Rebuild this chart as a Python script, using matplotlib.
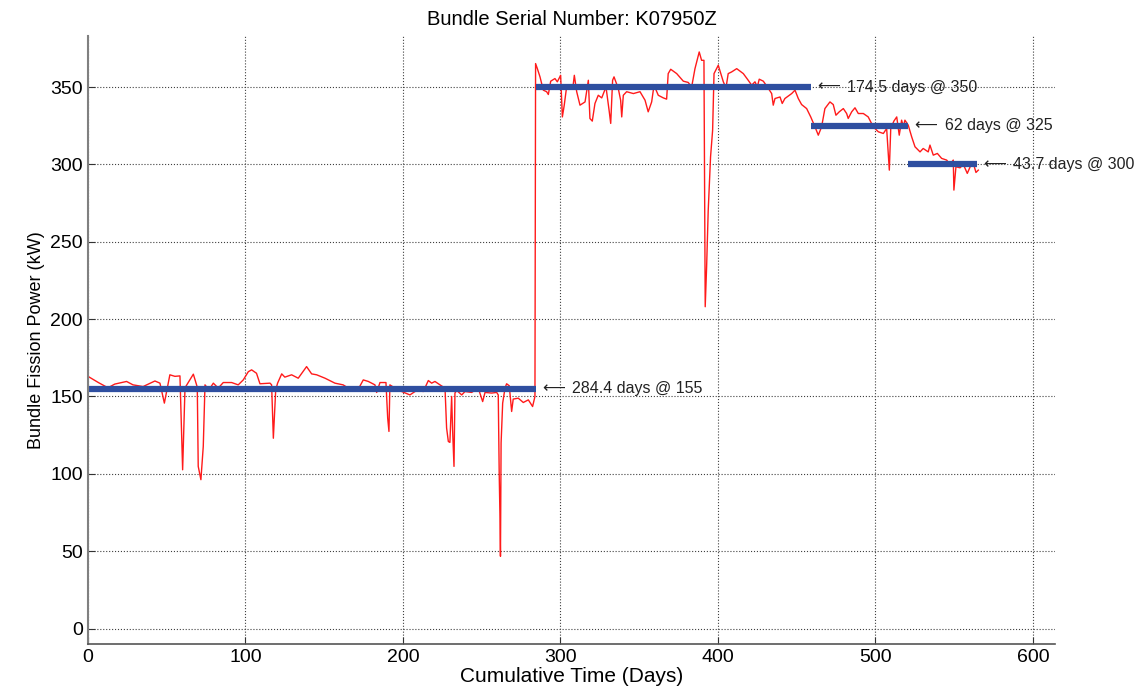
import matplotlib
matplotlib.use("Agg")
import matplotlib.pyplot as plt
import numpy as np

# cumulative time (days) and bundle fission power (kW)
days = [
    0, 6.6, 12.7, 17, 24.5, 28.6, 35, 42.5, 45.7, 48.5, 52, 55.2, 58.4, 60.1,
    61.6, 66.9, 69.4, 70, 71.7, 73.2, 74.3, 76.8, 79.6, 82.7, 85.9, 91.2, 95.4,
    98.6, 101.8, 103.9, 107, 109.2, 115.6, 116.6, 117.7, 119.2, 120.4, 123, 125,
    129.3, 133.5, 138.8, 142, 145.2, 150.5, 156.8, 162, 165.3, 171.6, 174.8,
    178, 182.2, 183.3, 185.4, 189.2, 190.3, 191.1, 191.7, 194.9, 199.2, 204.4,
    208.7, 212.9, 216.1, 218.2, 220.3, 223.5, 226.7, 227.7, 228.8, 229.8, 230.9,
    231.5, 232.4, 233, 234.1, 237.3, 239.4, 243.6, 247.8, 250.6, 252.1, 256.3,
    259.5, 260.5, 261.1, 261.6, 261.9, 262.3, 263.3, 264.8, 265.8, 267.5, 269,
    270, 273.2, 276.4, 279.6, 282.3, 283.8, 284.2, 285.3, 287, 289.1, 291.2,
    292.3, 293.8, 296.5, 298, 300.1, 301.2, 302.4, 303.9, 308.1, 308.8, 310.3,
    312.4, 315.6, 317.7, 318.7, 320.2, 321.9, 324, 326.2, 328.9, 331, 331.9,
    333.1, 334, 336.7, 338.2, 338.9, 339.9, 342, 346.3, 350.5, 353.7, 355.7,
    357.9, 359.4, 362.1, 365.3, 367.4, 368.4, 370, 373.8, 378, 381.1, 383.3,
    385.4, 388.1, 389.6, 391.1, 391.9, 392.8, 393.8, 395.3, 396.6, 397.5, 400.2,
    403.4, 405.1, 406.5, 408.7, 411.9, 416.1, 419.2, 421.4, 423.5, 425, 426.2,
    428.8, 432, 434.1, 435.1, 436.2, 439.4, 440.8, 442.5, 446.8, 448.9, 451,
    453.1, 456.3, 458.9, 461.6, 463.7, 465.8, 467.9, 471.1, 473.2, 474.9, 477,
    479.6, 481.7, 482.7, 484.9, 487, 489.1, 492.3, 495.4, 498.6, 501.8, 505,
    507.1, 508.8, 509.7, 511.7, 513.5, 515.1, 516.6, 517.7, 518.7, 520.8, 523,
    525.1, 528.3, 530.3, 533.5, 534.6, 536.7, 539.3, 542, 545.2, 547.3, 549.4,
    549.8, 551.1, 553.7, 555.8, 558.3, 560.4, 562.5, 563.8, 565.3,
]
power = [
    163, 159, 155.6, 158, 159.7, 157.5, 156.4, 160, 158.6, 145.7, 164, 163,
    163.3, 102.6, 155.6, 164.4, 156, 104.8, 96.2, 117.7, 157.5, 154.3, 158.6,
    155.4, 159, 159, 157.5, 160.7, 166, 167.2, 165, 158.2, 158.6, 157.5, 123,
    154.3, 158.6, 164.6, 162.5, 164, 161.8, 169.3, 164.6, 164, 161.8, 158.6,
    157.5, 155.4, 154.7, 160.7, 159.7, 157.5, 152.6, 159, 159, 136, 127.4,
    157.5, 155.4, 153.2, 151, 153.9, 153.2, 160.3, 158.6, 159.7, 157.5, 155.4,
    129.6, 120.9, 120.3, 150, 128.5, 104.8, 152.2, 153.9, 151, 153.2, 152.6,
    155.4, 146.7, 152.6, 152.2, 152.6, 151, 100.5, 71.5, 46.7, 119.9, 145.7,
    155.4, 158.2, 156.9, 140.3, 148.3, 148.9, 146.1, 147.8, 143.5, 150, 365.2,
    362, 356.6, 348, 347, 345.2, 353.8, 355.5, 353.4, 357.6, 330.7, 338.3,
    350.1, 351.6, 357.6, 347, 338.3, 340.4, 354.4, 329.7, 328, 339.4, 344.7,
    343, 350.1, 334, 326.5, 354.4, 356.6, 349.1, 341.5, 330.7, 344.7, 347,
    345.8, 347, 341.5, 334, 340.4, 351.2, 344.7, 343, 342.2, 358.7, 361.5,
    358.7, 353.8, 353, 350.1, 361.9, 372.7, 367.3, 367.3, 208, 234, 270, 305,
    322, 358.7, 364.1, 353.4, 349.5, 358.7, 359.8, 361.9, 358.7, 354.4, 351.2,
    353.4, 350.1, 355.1, 353.8, 349.1, 345.8, 338.3, 342.6, 343.6, 339.4,
    342.6, 345.8, 348, 342.6, 338.7, 336.1, 330.7, 324.3, 318.9, 324.3, 336.1,
    340.4, 338.7, 331.8, 334, 336.1, 332.9, 329.7, 334, 336.6, 332.9, 332.9,
    330.7, 324.3, 321.1, 320, 323.2, 296.3, 323.2, 328, 330.7, 318.9, 328.6,
    324.3, 328.6, 325.4, 317.8, 311.4, 308.1, 310.3, 308.1, 312.5, 306, 307.1,
    303.9, 302.8, 300, 302.8, 283.4, 298.5, 297.8, 300, 294.2, 299.1, 299.5,
    294.8, 296.3,
]

# constant power steps: duration (days) and level (kW)
stepDurations = [284.4, 174.5, 62, 43.7]
stepLevels = [155, 350, 325, 300]

plt.rcParams['font.family'] = ['Liberation Sans', 'DejaVu Sans']

fig = plt.figure(figsize=(11.47, 6.98), dpi=100)
ax = fig.add_axes([0.0767, 0.0774, 0.8431, 0.871])

ax.plot(days, power, '-', color='#ff1a1a', lw=1)

stepStart = 0
for duration, level in zip(stepDurations, stepLevels):
    stepEnd = stepStart + duration
    ax.plot([stepStart, stepEnd], [level, level], '-',
            color='#2f4fa0', lw=4.5, solid_capstyle='butt')
    ax.text(stepEnd + 4, level, "\u27f5", va='center', ha='left',
            fontsize=11.5, color='#222222', family='DejaVu Sans')
    ax.text(stepEnd + 23, level, f"{duration:g} days @ {level}",
            va='center', ha='left', fontsize=11.5, color='#222222')
    stepStart = stepEnd

ax.set_xlim(0, 614)
ax.set_ylim(-10, 383)
ax.set_xticks(np.arange(0, 601, 100))
ax.set_yticks(np.arange(0, 351, 50))
ax.grid(True, ls=':', color='#404040', lw=0.8)
ax.tick_params(direction='in', length=5, labelsize=14, color='#333333')
ax.spines['top'].set_visible(False)
ax.spines['right'].set_visible(False)
ax.spines['left'].set_color('#808080')
ax.spines['left'].set_linewidth(1.5)
ax.spines['bottom'].set_color('#555555')
ax.spines['bottom'].set_linewidth(1.2)

ax.set_title("Bundle Serial Number: K07950Z", fontsize=14.5, pad=8)
ax.set_xlabel("Cumulative Time (Days)", fontsize=15, labelpad=1)
ax.set_ylabel("Bundle Fission Power (kW)", fontsize=13, labelpad=4)

fig.savefig("out.png", dpi=100)
